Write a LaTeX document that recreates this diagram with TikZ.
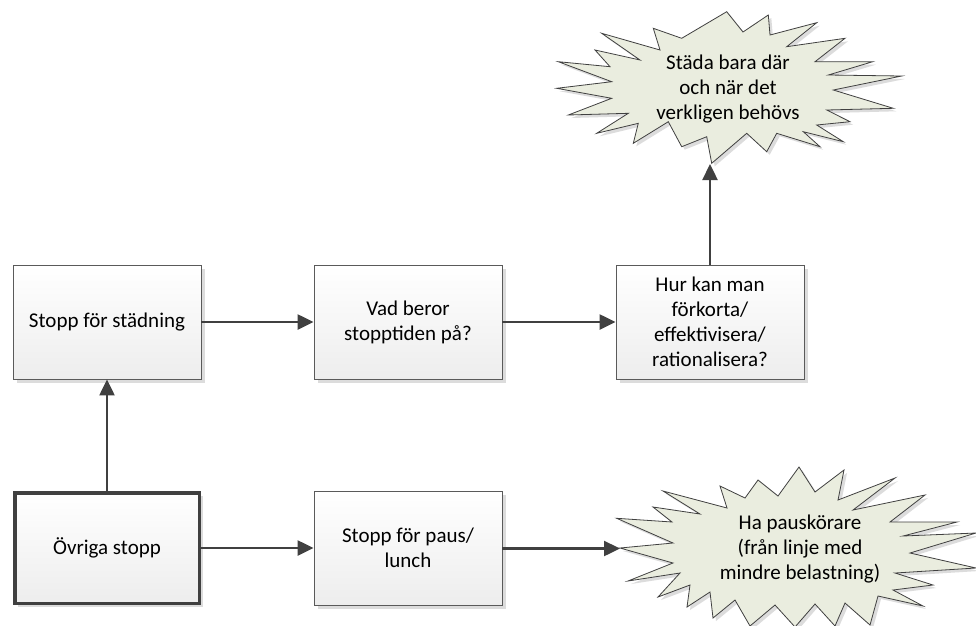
\documentclass[tikz,border=0pt]{standalone}
\usepackage{fontspec}
\setmainfont{Carlito}
\usetikzlibrary{arrows.meta,shadows}
\definecolor{linecol}{HTML}{404040}
\definecolor{boxline}{HTML}{5A5A5A}
\definecolor{starfill}{HTML}{EAEDDF}
\definecolor{shadowcol}{HTML}{DCDCDC}

\tikzset{
  % upper explosion shape
  burstA/.pic={\path[pic actions]
    (556.7,88.3) -- (611.7,81.7) -- (558.3,61.7) -- (610,66.7) -- (595,50) --
    (640,60) -- (601.7,33.3) -- (660,50) -- (653.3,28.3) -- (681.7,38.3) --
    (726.7,11.7) -- (743,32) -- (768.3,15) -- (770,35) -- (816.7,22.7) --
    (786.7,46.7) -- (845,38.3) -- (815,61.7) -- (872.7,61.7) -- (828.3,75) --
    (901.7,76) -- (833.3,90) -- (893.3,108.3) -- (826.7,110) -- (850,121.7) --
    (816.7,125) -- (843.3,141.7) -- (803.3,131.7) -- (820,146.7) -- (776.7,133.3) --
    (766.7,151.7) -- (746.7,133.3) -- (711.7,163.3) -- (706.7,136.7) -- (681.7,146.7) --
    (668.3,121.7) -- (633.3,143.3) -- (638.3,123.3) -- (596.7,133.3) -- (628.3,113.3) --
    (568.3,115) -- (611.7,98.3) -- cycle;},
  % lower explosion shape
  burstB/.pic={\path[pic actions]
    (616.7,518.3) -- (672,522) -- (653,507) -- (700,514) -- (663,491) --
    (727,508) -- (720,486) -- (745,498) -- (758,480) -- (778,496) --
    (799,467) -- (815,492) -- (844,470) -- (838,500) -- (895,478) --
    (853,510) -- (925,495) -- (890,522) -- (957,522) -- (903,536) --
    (976,533) -- (910,553) -- (976,568) -- (895,573) -- (933,585) --
    (893,590) -- (923,606) -- (878,596) -- (870,625) -- (845,603) --
    (835,626) -- (815,604) -- (795,627) -- (775,605) -- (750,626) --
    (735,600) -- (713,618) -- (710,592) -- (687,607) -- (690,585) --
    (658,597) -- (680,573) -- (628,581) -- (673,563) -- (620,548) --
    (673,543) -- cycle;}
}

\begin{document}
\begin{tikzpicture}[x=1pt,y=-1pt,
  txt/.style={font=\fontsize{21}{25}\selectfont, align=center},
  stepbox/.style={txt, draw=boxline, line width=0.9pt,
    top color=white, bottom color=black!7,
    minimum width=188pt, minimum height=114pt, inner sep=0pt,
    drop shadow={shadow xshift=3.5pt, shadow yshift=-3.5pt, fill=shadowcol, opacity=1}},
  startbox/.style={stepbox, draw=linecol, line width=3.5pt,
    minimum width=184.5pt, minimum height=110.5pt},
  burstline/.style={draw=linecol, line width=0.8pt, fill=starfill},
  burstshadow/.style={fill=shadowcol},
  flow/.style={draw=linecol, line width=2.4pt, -{Triangle[length=16pt,width=15pt]}}
]
\fill[white] (0,0) rectangle (976,625);
\useasboundingbox (0,0) rectangle (976,625);

% explosion shapes with their shadows
\pic[burstshadow] at (3,3) {burstA};
\pic[burstline] at (0,0) {burstA};
\pic[burstshadow] at (3,3) {burstB};
\pic[burstline] at (0,0) {burstB};
\coordinate (burstAtip) at (711.7,164);
\coordinate (burstBtip) at (620,548.5);

% process boxes
\node[stepbox] (clean) at (107,322) {Stopp för städning};
\node[stepbox] (depend) at (408,322) {Vad beror\\stopptiden på?};
\node[stepbox] (improve) at (710,322) {Hur kan man\\förkorta/\\effektivisera/\\rationalisera?};
\node[startbox] (other) at (107,548) {Övriga stopp};
\node[stepbox] (pause) at (408,548) {Stopp för paus/\\lunch};

% texts inside the explosions
\node[txt] (ideaA) at (728,89) {Städa bara där\\och när det\\verkligen behövs};
\node[txt] (ideaB) at (800,549) {Ha pauskörare\\(från linje med\\mindre belastning)};

% connectors
\draw[flow] (clean) -- (depend);
\draw[flow] (depend) -- (improve);
\draw[flow] (other) -- (clean);
\draw[flow] (other) -- (pause);
\draw[flow] (improve.north) -- (improve.north |- burstAtip);
\draw[flow] (pause.east |- burstBtip) -- (burstBtip);
\end{tikzpicture}
\end{document}
